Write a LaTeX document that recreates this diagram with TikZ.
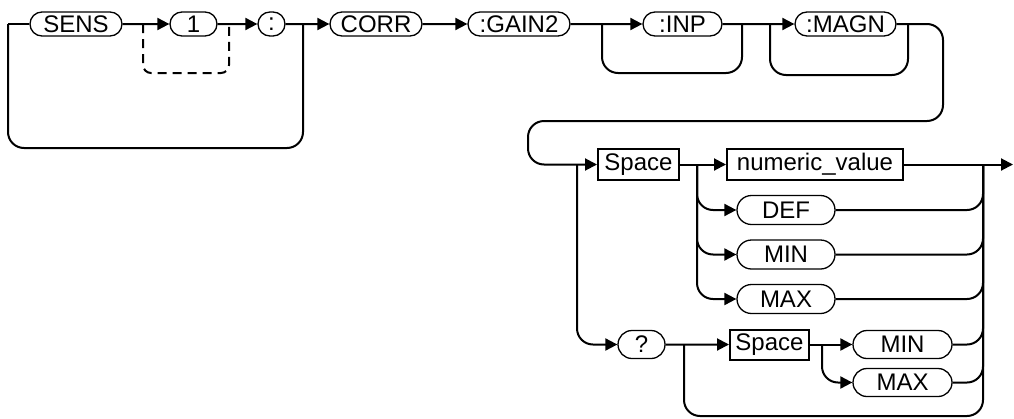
\documentclass[tikz,border=0pt]{standalone}
\usepackage{fontspec}
\setmainfont{Liberation Sans}
\usetikzlibrary{positioning, shapes.misc, arrows.meta}

\begin{document}
\begin{tikzpicture}[x=1pt, y=-1pt, on grid, line width=2pt,
    font=\fontsize{24}{28}\selectfont,
    >={Triangle[length=12pt, width=12pt]},
    kw/.style={draw, rounded rectangle, line width=1.3pt, minimum height=24pt, inner sep=0pt},
    par/.style={draw, rectangle, line width=2pt, minimum height=31pt, inner sep=0pt},
    bypass/.style={rounded corners=16pt}]

        \useasboundingbox (0,0) rectangle (1014,418);

        % first row
        \node[kw, minimum width=92pt] (sens) at (76,24) {SENS};
        \node[kw, minimum width=47pt] (one) [right=117.5pt of sens] {1};
        \node[kw, minimum width=27pt] (colon) [right=78pt of one] {:};
        \node[kw, minimum width=92pt] (corr) [right=104.5pt of colon] {CORR};
        \node[kw, minimum width=102pt] (gain) [right=143pt of corr] {:GAIN2};
        \node[kw, minimum width=79pt] (inp) [right=163.5pt of gain] {:INP};
        \node[kw, minimum width=101pt] (magn) [right=163pt of inp] {:MAGN};

        % second row
        \node[par, minimum width=81pt] (space) at (638.5,164.5) {Space};
        \node[par, minimum width=176pt] (numval) [right=176.5pt of space] {numeric\_value};
        \node[kw, minimum width=98pt, minimum height=29pt] (def) at (786,210) {DEF};
        \node[kw, minimum width=98pt, minimum height=29pt] (min) [below=44.5pt of def] {MIN};
        \node[kw, minimum width=98pt, minimum height=29pt] (max) [below=44.5pt of min] {MAX};

        % query row
        \node[kw, minimum width=47pt, minimum height=28pt] (query) at (641.5,344.5) {?};
        \node[par, minimum width=79pt, minimum height=30pt] (spaceq) [right=128pt of query] {Space};
        \node[kw, minimum width=99pt, minimum height=28pt] (minq) [right=133pt of spaceq] {MIN};
        \node[kw, minimum width=99pt, minimum height=28pt] (maxq) [below=38pt of minq] {MAX};

        \coordinate (lt) at (8,24);
        \coordinate (rt) at (303,24);
        \coordinate (d1) at (143,24);
        \coordinate (d2) at (229,24);
        \coordinate (g1) at (602,24);
        \coordinate (g2) at (742,24);
        \coordinate (m1) at (770,24);
        \coordinate (m2) at (908,24);
        \coordinate (r2) at (943,121);
        \coordinate (r4) at (528,164.5);
        \coordinate (jq) at (577,164.5);
        \coordinate (js) at (697,164.5);
        \coordinate (jout) at (983,164.5);
        \coordinate (tip) at (1013,164.5);
        \coordinate (jb) at (684,344.5);
        \coordinate (jm) at (822,344.5);
        \coordinate (rbot) at (983,416);

        \draw[->] (sens) -- (one);
        \draw[->] (one) -- (colon);
        \draw[->] (colon) -- (corr);
        \draw[->] (corr) -- (gain);
        \draw[->] (gain) -- (inp);
        \draw[->] (inp) -- (magn);

        \draw (sens.west) -- (lt);
        \draw[bypass] (lt) -- ++(0,124) -| (rt);
        \draw[dash pattern=on 9pt off 6pt, rounded corners=8pt] (d1) -- ++(0,49) -| (d2);
        \draw[bypass] (g1) -- ++(0,49) -| (g2);
        \draw[bypass] (m1) -- ++(0,51) -| (m2);
        \draw[->, bypass] (magn.east) -| (r2) -| (r4) -- (space.west);

        \draw[->] (space) -- (numval);
        \draw[->] (numval) -- (tip);
        \draw[->, bypass] (js) |- (def);
        \draw[->, bypass] (js) |- (min);
        \draw[->, bypass] (js) |- (max);
        \draw[bypass] (def) -| (jout);
        \draw[bypass] (min) -| (jout);
        \draw[bypass] (max) -| (jout);

        \draw[->, bypass] (jq) |- (query);
        \draw[->] (query) -- (spaceq);
        \draw[->] (spaceq) -- (minq);
        \draw[->, bypass] (jm) |- (maxq);
        \draw[bypass] (minq) -| (jout);
        \draw[bypass] (maxq) -| (jout);
        \draw[bypass] (jb) |- (rbot) -- (jout);

    \end{tikzpicture}
\end{document}
